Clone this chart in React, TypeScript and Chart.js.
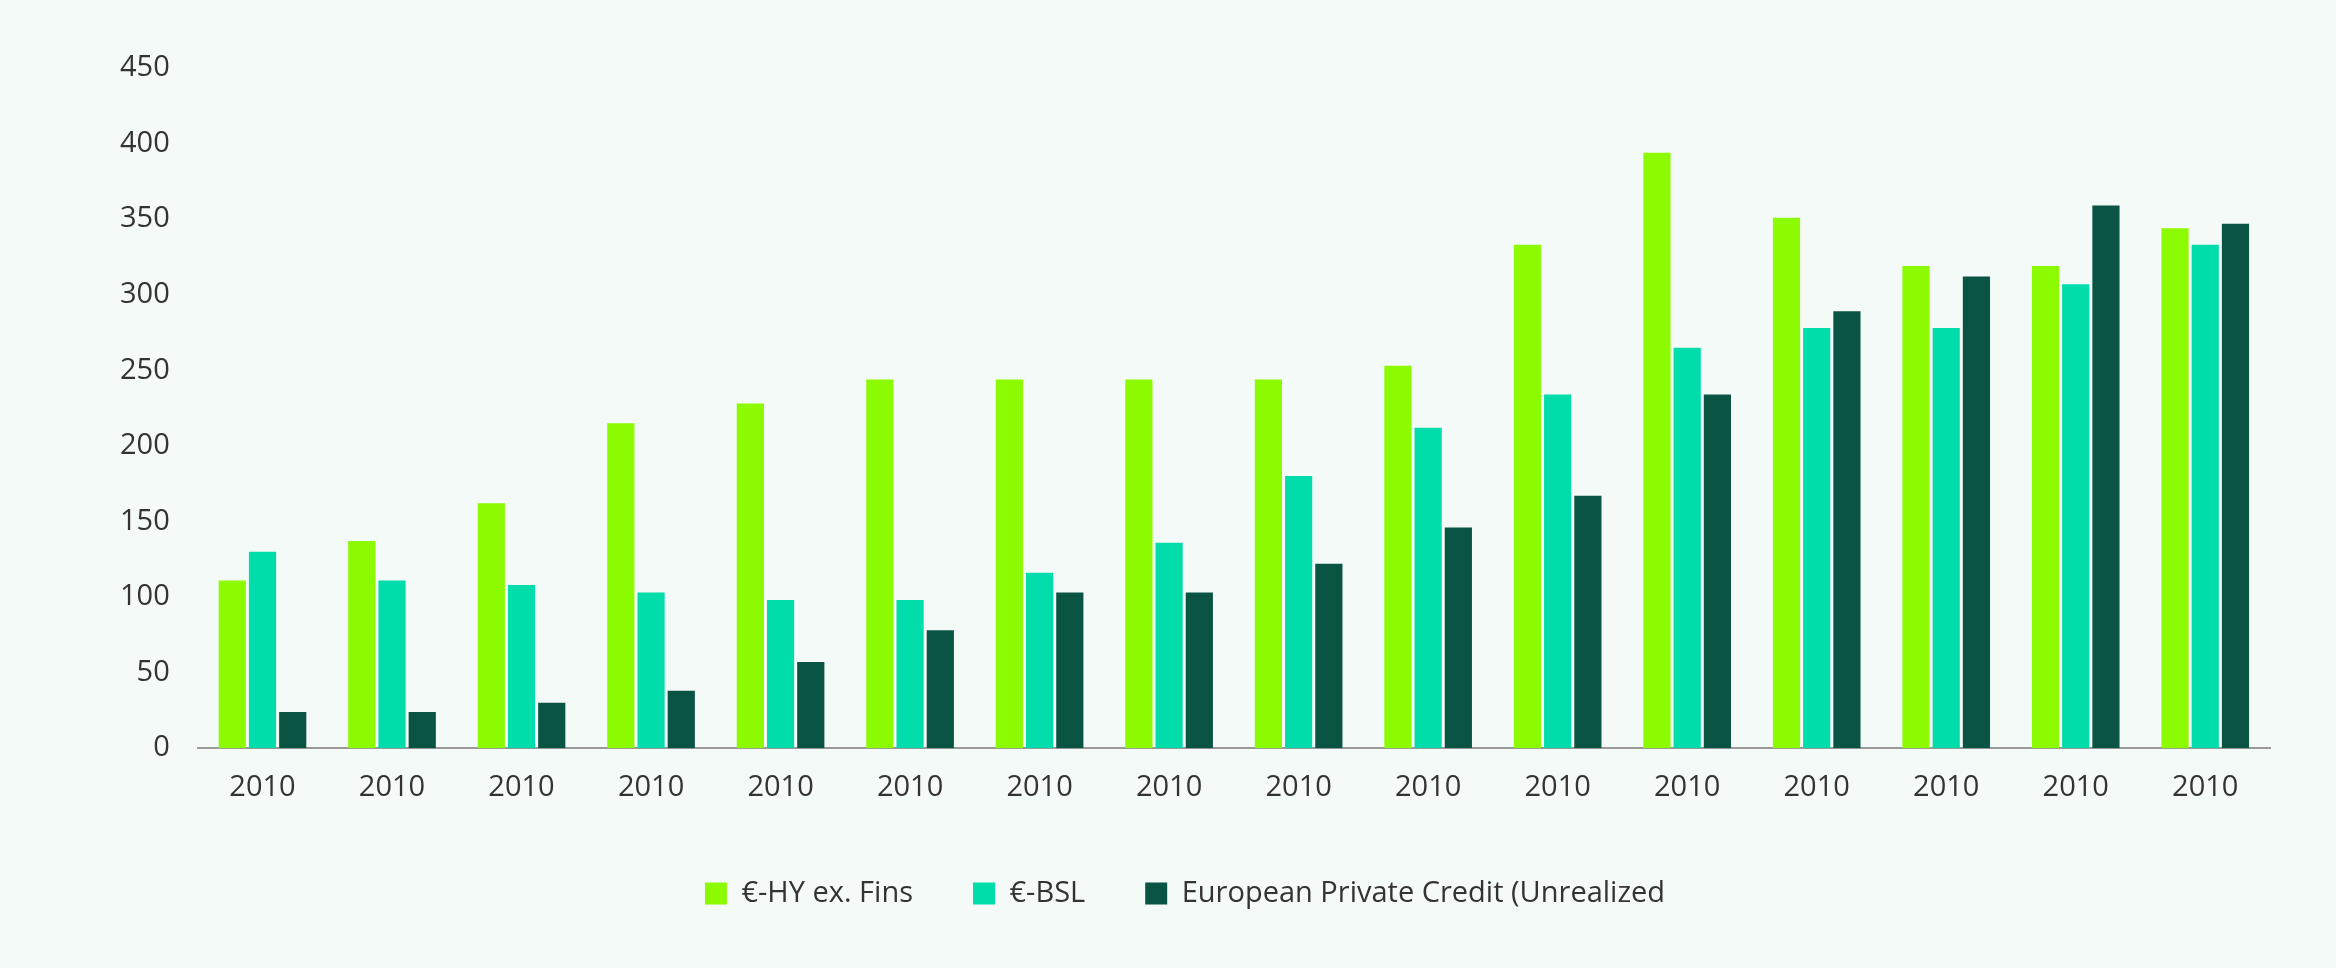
import React, { useEffect, useRef } from "react";
import { Chart, registerables } from "chart.js";
Chart.register(...registerables);

const categories = Array(16).fill("2010");
const hyExFins = [111, 137, 162, 215, 228, 244, 244, 244, 244, 253, 333, 394, 351, 319, 319, 344];
const bsl = [130, 111, 108, 103, 98, 98, 116, 136, 180, 212, 234, 265, 278, 278, 307, 333];
const privateCredit = [24, 24, 30, 38, 57, 78, 103, 103, 122, 146, 167, 234, 289, 312, 359, 347];
const seriesNames = ["€-HY ex. Fins", "€-BSL", "European Private Credit (Unrealized"];

export default function App() {
  const ref = useRef<HTMLCanvasElement>(null);
  useEffect(() => {
    const font = { family: "'Open Sans'", size: 29 };
    const chart = new Chart(ref.current!, {
      type: "bar",
      data: {
        labels: categories,
        datasets: [
          { label: seriesNames[0], data: hyExFins, backgroundColor: "#8cfa00" },
          { label: seriesNames[1], data: bsl, backgroundColor: "#00dcaa" },
          { label: seriesNames[2], data: privateCredit, backgroundColor: "#0a5444" },
        ],
      },
      options: {
        animation: false,
        responsive: false,
        maintainAspectRatio: false,
        datasets: { bar: { categoryPercentage: 0.7, barPercentage: 0.9 } },
        layout: { padding: { left: 100, right: 66, top: 68, bottom: 50 } },
        plugins: {
          legend: {
            position: "bottom",
            labels: { font, color: "#333", boxWidth: 22, boxHeight: 22, padding: 60 },
          },
          tooltip: { enabled: false },
        },
        scales: {
          x: {
            grid: { display: false },
            border: { color: "#999", width: 2 },
            ticks: { font, color: "#333", padding: 14 },
          },
          y: {
            min: 0, max: 450,
            grid: { display: false },
            border: { display: false },
            ticks: { stepSize: 50, font, color: "#333", padding: 20 },
          },
        },
      },
    });
    return () => chart.destroy();
  }, []);
  return (
    <div style={{ position: "fixed", left: 0, top: 0, width: 2336, height: 968, background: "#f4faf7" }}>
      <canvas ref={ref} width={2336} height={968} style={{ width: 2336, height: 968 }} />
    </div>
  );
}
